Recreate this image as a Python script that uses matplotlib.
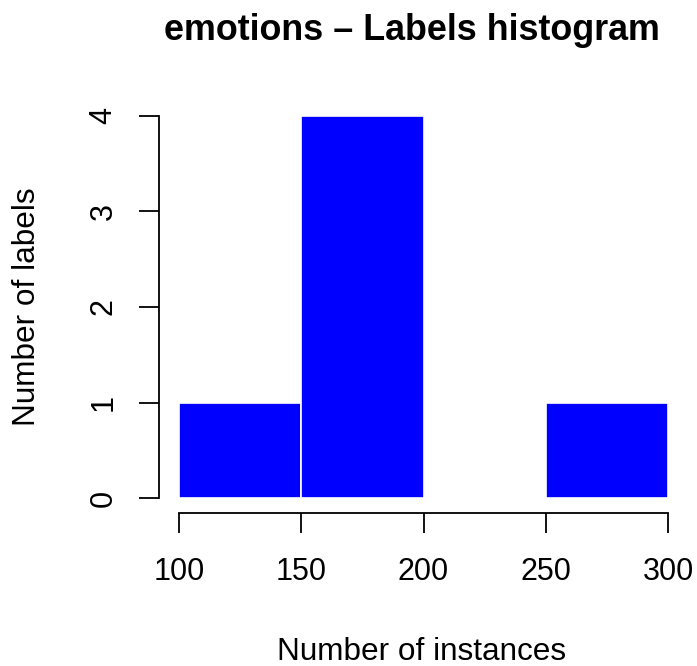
import numpy as np
import matplotlib
matplotlib.use("Agg")
import matplotlib.pyplot as plt

plt.rcParams['font.family'] = ['Liberation Sans', 'DejaVu Sans']

# histogram data
bin_edges = [100, 150, 200, 250, 300]
counts = [1, 4, 0, 1]
x_ticks = [100, 150, 200, 250, 300]
y_ticks = [0, 1, 2, 3, 4]

TITLE = "emotions \u2013 Labels histogram"
XLAB = "Number of instances"
YLAB = "Number of labels"

W, H = 697, 666
fig = plt.figure(figsize=(W/100, H/100), dpi=100)
ax = fig.add_axes([159.4/W, 1-513.3/H, (687.6-159.4)/W, (513.3-100.7)/H])

lefts = np.array(bin_edges[:-1])
widths = np.diff(bin_edges)
ax.bar(lefts, counts, width=widths, align='edge', color='#0000ff',
       edgecolor='white', linewidth=1.2)

# R style axis limits (4% padding)
ax.set_xlim(92, 308)
ax.set_ylim(-0.16, 4.16)

for s in ['top', 'right']:
    ax.spines[s].set_visible(False)
ax.spines['left'].set_bounds(0, 4)
ax.spines['bottom'].set_bounds(100, 300)
ax.spines['left'].set_linewidth(1.3)
ax.spines['bottom'].set_linewidth(1.3)

ax.set_xticks(x_ticks)
ax.set_yticks(y_ticks)
ax.tick_params(axis='both', length=14.4, width=1.3, labelsize=22)
ax.tick_params(axis='x', pad=17)
ax.tick_params(axis='y', pad=15)
for lab in ax.get_yticklabels():
    lab.set_rotation(90)
    lab.set_va('center')

fig.text(412/W, 1-39.5/H, TITLE, fontsize=25.8, fontweight='bold',
         ha='center', va='baseline')
fig.text(422/W, 1-660/H, XLAB, fontsize=22.7, ha='center', va='baseline')
fig.text(35/W, 1-307/H, YLAB, fontsize=22.7, rotation=90,
         rotation_mode='anchor', ha='center', va='baseline')

fig.savefig("out.png", dpi=100)
